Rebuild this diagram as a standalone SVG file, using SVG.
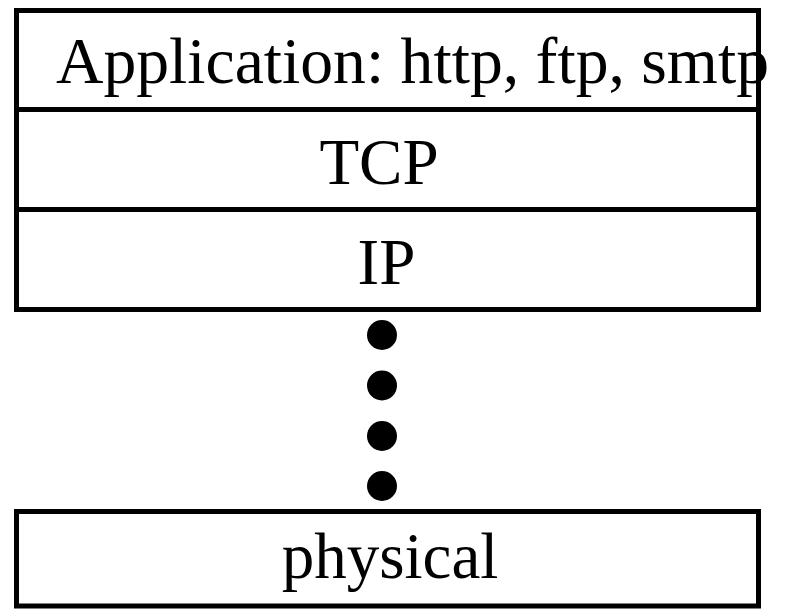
<svg xmlns="http://www.w3.org/2000/svg" width="787" height="610" viewBox="0 0 787 610">
<style>
.box{fill:#fff;stroke:#000;stroke-width:5}
.lbl{font-family:"Liberation Serif","Times New Roman",serif;font-size:65px;fill:#000}
.dot{fill:#000}
</style>
<rect width="787" height="610" fill="#fff"/>
<g id="tcp"><rect class="box" x="16.5" y="109.5" width="742" height="100"/><text class="lbl" x="379" y="184" text-anchor="middle">TCP</text></g>
<g id="ip"><rect class="box" x="16.5" y="209.5" width="742" height="100"/><text class="lbl" x="386.5" y="284" text-anchor="middle">IP</text></g>
<g id="app"><rect class="box" x="16.5" y="10.5" width="742" height="99"/><text class="lbl" x="56" y="83" textLength="713" lengthAdjust="spacingAndGlyphs">Application: http, ftp, smtp</text></g>
<g id="dots"><circle class="dot" cx="382" cy="335" r="15"/><circle class="dot" cx="382" cy="385.5" r="15"/><circle class="dot" cx="382" cy="436" r="15"/><circle class="dot" cx="382" cy="486" r="15"/></g>
<g id="physical"><rect class="box" x="16.5" y="511.5" width="742" height="94.5"/><text class="lbl" x="390" y="578" text-anchor="middle">physical</text></g>
<g id="connectors"></g>
</svg>
